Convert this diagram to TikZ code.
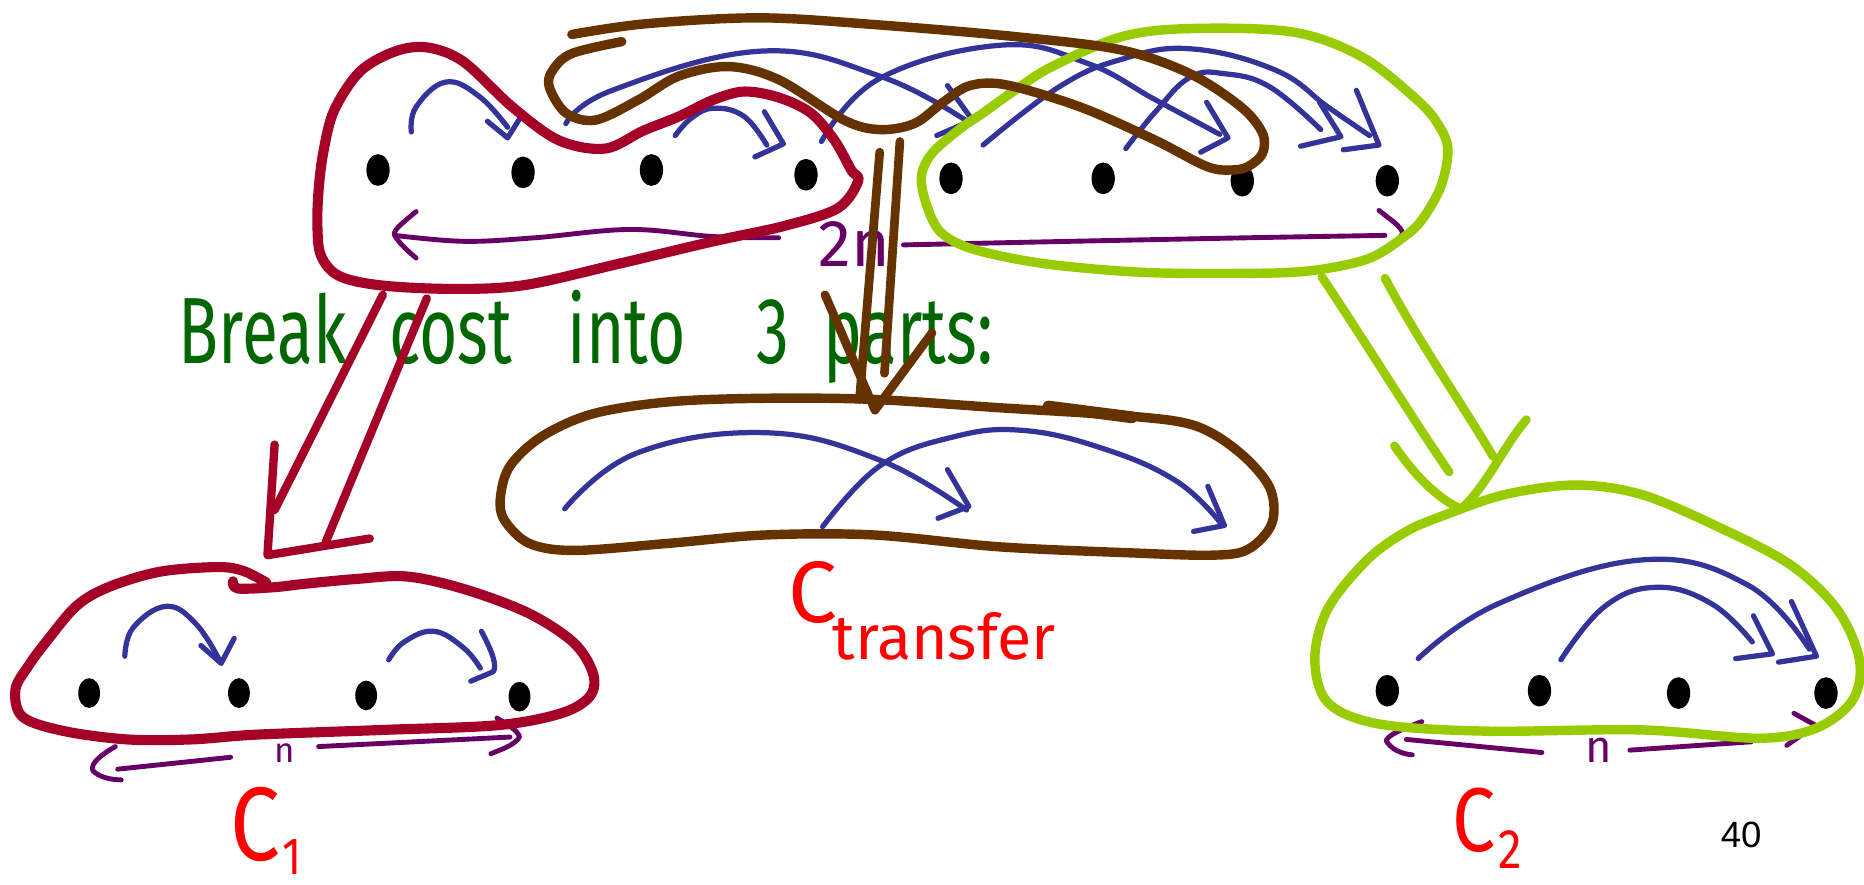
\documentclass[tikz,border=0pt]{standalone}
\usepackage{fontspec}
\setmainfont{Fira Sans}
\newfontfamily\pagefont{Liberation Sans}
\usetikzlibrary{shapes.geometric}

\definecolor{inkred}{RGB}{165,0,40}
\definecolor{inkbrown}{RGB}{102,51,0}
\definecolor{inklime}{RGB}{153,204,0}
\definecolor{inkblue}{RGB}{51,51,153}
\definecolor{inkpurple}{RGB}{102,0,102}
\definecolor{inkgreen}{RGB}{0,102,0}
\definecolor{labelred}{RGB}{255,0,0}

\begin{document}
\begin{tikzpicture}[x=0.012cm, y=-0.012cm, line cap=round, line join=round,
  pt/.style={ellipse, fill=black, inner sep=0pt, minimum width=0.235cm, minimum height=0.32cm},
  redink/.style={draw=inkred, line width=2.9pt},
  brownink/.style={draw=inkbrown, line width=2.7pt},
  limeink/.style={draw=inklime, line width=2.7pt},
  blueink/.style={draw=inkblue, line width=1.5pt},
  purpleink/.style={draw=inkpurple, line width=1.4pt},
  handtxt/.style={text=inkgreen, font=\fontsize{27}{27}\selectfont, xscale=0.7, inner sep=0pt, anchor=base west},
  costlbl/.style={text=labelred, inner sep=0pt, anchor=base west},
  countlbl/.style={text=inkpurple, inner sep=0pt, anchor=base west}
]
\path[use as bounding box] (0,0) rectangle (1568,744);

% ---------- top row: 8 positions ----------
\foreach \n/\x/\y in {1/318/143, 2/440/145, 3/548/143, 4/678/147, 5/800/150, 6/928/150, 7/1045/152, 8/1167/152}
  \node[pt] (t\n) at (\x,\y) {};

% jumps inside the left half
\draw[blueink] plot[smooth, tension=0.7] coordinates {(346,111) (350,90) (375,69) (403,81) (427,107)};
\draw[blueink] (410,102) -- (427,116) -- (437,100);
\draw[blueink] plot[smooth, tension=0.7] coordinates {(568,114) (582,99) (601,91) (626,98) (645,122)};
\draw[blueink] (643,94) -- (659,121) -- (635,132);
% long jumps crossing the middle
\draw[blueink] plot[smooth, tension=0.7] coordinates {(476,104) (515,76) (640,43) (740,64) (812,101)};
\draw[blueink] (797,72) -- (818,101) -- (788,114);
\draw[blueink] plot[smooth, tension=0.7] coordinates {(691,119) (740,66) (842,38) (914,53) (972,84) (1026,113)};
\draw[blueink] (1015,86) -- (1033,116) -- (1010,128);
\draw[blueink] plot[smooth, tension=0.7] coordinates {(827,122) (891,73) (943,50) (1001,41) (1073,59) (1117,90) (1152,114)};
\draw[blueink] (1141,76) -- (1160,122) -- (1130,126);
\draw[blueink] plot[smooth, tension=0.7] coordinates {(947,125) (972,94) (1001,65) (1030,62) (1068,73) (1111,109)};
\draw[blueink] (1110,86) -- (1128,115) -- (1094,123);

% width brace 2n
\draw[purpleink] (350,178) .. controls (338,188) and (330,194) .. (332,198) .. controls (336,205) and (344,212) .. (350,217);
\draw[purpleink] plot[smooth, tension=0.6] coordinates {(332,198) (390,203) (450,200) (530,193) (600,199) (655,200)};
\draw[purpleink] plot[smooth, tension=0.6] coordinates {(760,206) (900,203) (1050,200) (1165,198)};
\draw[purpleink] (1160,177) .. controls (1170,185) and (1178,190) .. (1180,196) .. controls (1176,205) and (1160,212) .. (1150,217);
\node[countlbl, font=\fontsize{19}{19}\selectfont] (w2n) at (688,224) {2n};

% left half, red
\draw[redink] plot[smooth cycle, tension=0.55] coordinates {
  (722,152) (705,175) (660,190) (600,203) (520,222) (440,240) (380,243) (320,240)
  (285,232) (270,215) (267,190) (268,160) (272,128) (281,93) (303,60) (333,43)
  (360,40) (390,52) (431,90) (470,118) (509,125) (541,110) (571,98) (600,84)
  (626,77) (655,82) (682,95) (702,118) (716,143)};

% right half, lime
\draw[limeink] plot[smooth cycle, tension=0.55] coordinates {
  (775,149) (784,129) (808,108) (827,95) (855,75) (885,56) (943,31) (1001,24)
  (1088,27) (1146,48) (1192,84) (1210,105) (1218,126) (1212,157) (1196,185)
  (1180,200) (1150,218) (1100,228) (1040,230) (960,229) (880,222) (820,210)
  (792,196) (780,174)};

% crossing jumps, brown
\draw[brownink] plot[smooth, tension=0.55] coordinates {
  (523,35) (481,45) (465,59) (462,73) (476,95) (501,101) (537,84) (571,64)
  (613,56) (655,67) (710,101) (740,109) (769,104) (792,87) (813,73) (836,70)
  (865,76) (914,92) (972,118) (1015,140) (1036,143) (1050,140) (1062,129)
  (1062,112) (1044,90) (1001,62) (943,42) (856,31) (740,21) (640,15) (543,20) (481,29)};

% ---------- caption ----------
\node[handtxt] (wBreak) at (150,306) {Break};
\node[handtxt] (wCost) at (327,306) {cost};
\node[handtxt] (wInto) at (477,306) {into};
\node[handtxt] (wThree) at (636,306) {3};
\node[handtxt] (wParts) at (692,306) {parts:};

% ---------- middle: transfer part ----------
\draw[blueink] plot[smooth, tension=0.7] coordinates {(475,428) (536,381) (644,364) (740,387) (813,429)};
\draw[blueink] (797,395) -- (815,426) -- (789,436);
\draw[blueink] plot[smooth, tension=0.7] coordinates {(692,443) (740,392) (800,368) (860,362) (930,378) (990,405) (1026,439)};
\draw[blueink] (1016,409) -- (1030,442) -- (1004,447);

\draw[brownink] plot[smooth cycle, tension=0.55] coordinates {
  (424,437) (421,418) (429,392) (456,367) (499,348) (563,338) (644,335) (735,336)
  (841,343) (950,350) (1005,358) (1042,380) (1068,410) (1070,440) (1050,462)
  (1020,467) (950,465) (841,460) (735,450) (644,450) (563,457) (483,463) (445,457)};
\draw[inkbrown, line width=3.4pt] (882,342) -- (952,351);

\node[costlbl] (lct) at (663,524) {\fontsize{25}{25}\selectfont C\kern-1.5pt\raisebox{-10.6pt}{\fontsize{18}{18}\selectfont transfer}};

% ---------- left part C1 ----------
\foreach \n/\x/\y in {1/75/583, 2/201/583, 3/308/585, 4/437/586}
  \node[pt, minimum width=0.22cm, minimum height=0.3cm] (a\n) at (\x,\y) {};

\draw[blueink] plot[smooth, tension=0.7] coordinates {(105,552) (112,528) (140,510) (165,525) (185,556)};
\draw[blueink] (169,543) -- (186,558) -- (197,537);
\draw[blueink] plot[smooth, tension=0.7] coordinates {(327,555) (340,540) (365,531) (390,545) (404,562)};
\draw[blueink] (405,531) .. controls (415,550) and (418,560) .. (415,565) -- (396,573);

\draw[purpleink] (97,628) .. controls (85,635) and (76,642) .. (78,648) .. controls (82,653) and (92,656) .. (102,656);
\draw[purpleink] (99,647) -- (194,637);
\draw[purpleink] (268,628) -- (429,620);
\draw[purpleink] (418,604) .. controls (428,610) and (436,615) .. (437,620) .. controls (433,627) and (420,631) .. (413,634);
\node[countlbl, font=\fontsize{10}{10}\selectfont] (wn1) at (230,641) {n};

\draw[redink] plot[smooth, tension=0.55] coordinates {
  (196,489) (200,495) (230,494) (257,491) (300,487) (343,485) (392,496) (445,516)
  (483,541) (499,567) (496,586) (472,600) (419,610) (322,614) (215,618) (161,622)
  (107,622) (54,615) (19,603) (13,580) (24,560) (38,541) (64,510) (91,494)
  (134,481) (182,477) (204,480) (224,490)};

\node[costlbl, xscale=0.85] (lc1) at (193,724) {\fontsize{30}{30}\selectfont C\kern1pt\raisebox{-4pt}{\fontsize{15}{15}\selectfont 1}};

% ---------- right part C2 ----------
\foreach \n/\x/\y in {1/1167/581, 2/1295/581, 3/1412/583, 4/1536/583}
  \node[pt] (b\n) at (\x,\y) {};

\draw[blueink] plot[smooth, tension=0.7] coordinates {(1193,554) (1260,508) (1381,471) (1470,492) (1522,546)};
\draw[blueink] (1507,506) -- (1528,552) -- (1496,557);
\draw[blueink] plot[smooth, tension=0.7] coordinates {(1313,555) (1350,510) (1394,494) (1440,508) (1474,540)};
\draw[blueink] (1475,518) -- (1491,550) -- (1460,554);

\draw[purpleink] (1196,607) .. controls (1180,613) and (1168,618) .. (1166,623) .. controls (1170,630) and (1178,634) .. (1188,635);
\draw[purpleink] (1183,622) -- (1297,633);
\draw[purpleink] (1371,631) -- (1473,624);
\draw[purpleink] (1509,600) -- (1527,610) -- (1503,627);
\node[countlbl, font=\fontsize{13}{13}\selectfont] (wn2) at (1333,641) {n};

\draw[limeink] plot[smooth cycle, tension=0.55] coordinates {
  (1183,447) (1150,471) (1117,512) (1106,554) (1117,591) (1160,609) (1249,615)
  (1381,614) (1480,621) (1529,612) (1559,588) (1564,554) (1545,512) (1506,475)
  (1447,444) (1381,416) (1325,408) (1266,416) (1216,433)};

\node[costlbl, xscale=0.85] (lc2) at (1221,716) {\fontsize{26}{26}\selectfont C\kern1pt\raisebox{-5pt}{\fontsize{16}{16}\selectfont 2}};

% ---------- hollow arrows from the halves to the parts ----------
% red: left half -> C1
\coordinate (ra1) at (322,248); \coordinate (ra2) at (231,429);
\coordinate (rb1) at (359,251); \coordinate (rb2) at (274,456);
\coordinate (rh1) at (231,374); \coordinate (rtip) at (225,467); \coordinate (rh2) at (311,453);
\draw[inkred, line width=2.4pt] (ra1) -- (ra2);
\draw[inkred, line width=2.4pt] (rb1) -- (rb2);
\draw[inkred, line width=2.4pt] (rh1) -- (rtip) -- (rh2);

% brown: crossing jumps -> transfer
\coordinate (ba1) at (740,128); \coordinate (ba2) at (723,336);
\coordinate (bb1) at (757,119); \coordinate (bb2) at (744,314);
\coordinate (bh1) at (694,248); \coordinate (btip) at (736,345); \coordinate (bh2) at (784,280);
\draw[inkbrown, line width=2.5pt] (ba1) -- (ba2);
\draw[inkbrown, line width=2.5pt] (bb1) -- (bb2);
\draw[inkbrown, line width=2.5pt] (bh1) -- (btip) -- (bh2);

% lime: right half -> C2
\coordinate (ga1) at (1112,233); \coordinate (ga2) at (1219,397);
\coordinate (gb1) at (1165,234); \coordinate (gb2) at (1256,384);
\coordinate (gh1) at (1173,375); \coordinate (gtip) at (1229,428); \coordinate (gh2) at (1284,353);
\draw[inklime, line width=2.5pt] (ga1) .. controls (1150,290) and (1190,355) .. (ga2);
\draw[inklime, line width=2.5pt] (gb1) .. controls (1195,290) and (1230,340) .. (gb2);
\draw[inklime, line width=2.5pt] (gh1) .. controls (1190,400) and (1210,420) .. (gtip) .. controls (1250,410) and (1265,375) .. (gh2);

% page number
\node[anchor=base west, inner sep=0pt, font=\pagefont\fontsize{10.5}{12}\selectfont] (page) at (1447,713) {40};
\end{tikzpicture}
\end{document}
